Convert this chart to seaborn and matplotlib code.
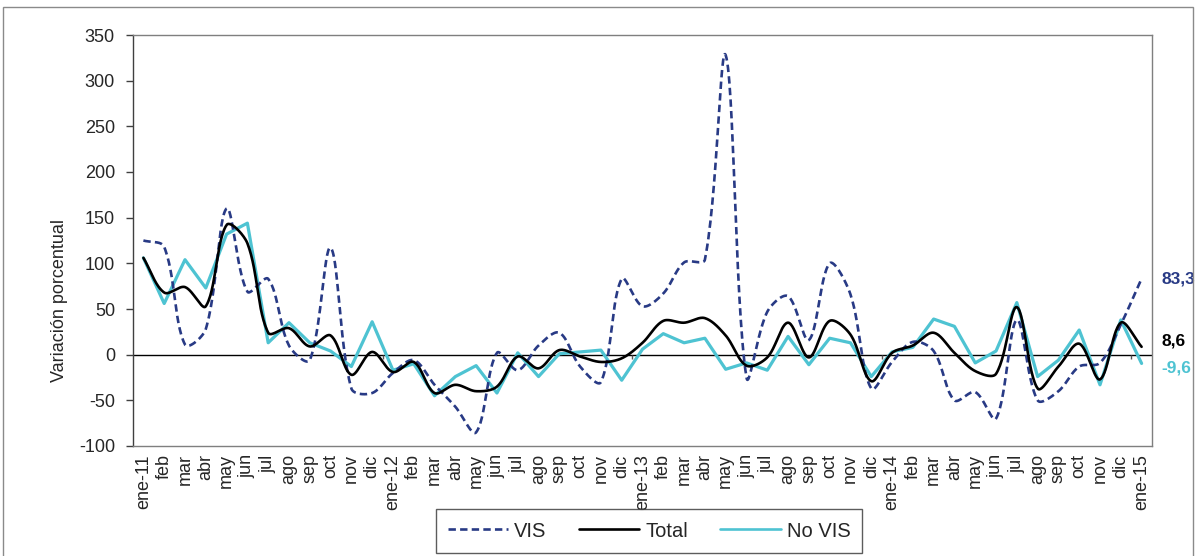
import numpy as np
import pandas as pd
import matplotlib
matplotlib.use("Agg")
import matplotlib.pyplot as plt
from matplotlib.lines import Line2D
from matplotlib.patches import Rectangle
import seaborn as sns

# Monthly categories (ene-11 .. ene-15)
months = ["ene-11", "feb", "mar", "abr", "may", "jun", "jul", "ago", "sep", "oct", "nov", "dic",
          "ene-12", "feb", "mar", "abr", "may", "jun", "jul", "ago", "sep", "oct", "nov", "dic",
          "ene-13", "feb", "mar", "abr", "may", "jun", "jul", "ago", "sep", "oct", "nov", "dic",
          "ene-14", "feb", "mar", "abr", "may", "jun", "jul", "ago", "sep", "oct", "nov", "dic",
          "ene-15"]

# Variación porcentual anual por segmento
vis = [125, 118, 11, 28, 160, 69, 83, 10, -6, 117, -37, -42,
       -20, -6, -33, -57, -85, 2, -17, 10, 24, -13, -30, 83,
       53, 67, 101, 104, 328, -25, 47, 64, 16, 100, 66, -37,
       -8, 14, 4, -50, -41, -70, 38, -50, -40, -13, -9, 33,
       83.3]
total = [106, 68, 74, 53, 142, 122, 24, 29, 9, 21, -22, 3,
         -19, -8, -42, -33, -40, -35, -2, -15, 5, -2, -8, -4,
         13, 37, 35, 40, 21, -12, -3, 35, -3, 37, 22, -29,
         2, 10, 24, 2, -18, -21, 52, -37, -13, 12, -27, 35,
         8.6]
no_vis = [106, 56, 104, 73, 132, 144, 13, 35, 13, 4, -13, 36,
          -17, -10, -45, -24, -12, -42, 2, -24, 1, 3, 5, -28,
          6, 23, 13, 18, -16, -9, -17, 20, -11, 18, 13, -24,
          3, 8, 39, 31, -9, 4, 57, -24, -6, 27, -33, 38,
          -9.6]

series_names = ["VIS", "Total", "No VIS"]
colors = {"VIS": "#283a85", "Total": "#000000", "No VIS": "#4ec3d2"}

# screen scale used for the curve smoothing (px per category, px per unit)
SX, SY = 20.8, 0.9133


def smooth_curve(values, steps=30, k=1.0 / 3.0):
    """Bezier smoothing through every point, tangents weighted by chord length."""
    y = np.asarray(values, dtype=float)
    n = len(y)
    pts = np.column_stack([np.arange(n) * SX, y * SY])
    ext = np.vstack([pts[0], pts, pts[-1]])
    t = np.linspace(0, 1, steps, endpoint=False)[:, None]
    out = []
    for i in range(n - 1):
        p0, p1, p2, p3 = ext[i], ext[i + 1], ext[i + 2], ext[i + 3]
        d01 = np.linalg.norm(p1 - p0)
        d12 = np.linalg.norm(p2 - p1)
        d23 = np.linalg.norm(p3 - p2)
        f1 = d12 / (d01 + d12) if d01 + d12 > 0 else 0.0
        f2 = d12 / (d12 + d23) if d12 + d23 > 0 else 0.0
        c1 = p1 + (p2 - p0) * f1 * k
        c2 = p2 - (p3 - p1) * f2 * k
        b = (1 - t) ** 3 * p1 + 3 * (1 - t) ** 2 * t * c1 + 3 * (1 - t) * t ** 2 * c2 + t ** 3 * p2
        out.append(b)
    out.append(pts[-1][None, :])
    arr = np.vstack(out)
    return arr[:, 0] / SX, arr[:, 1] / SY


sns.set_theme(style="white")
plt.rcParams["font.family"] = ["Liberation Sans", "DejaVu Sans"]
plt.rcParams["axes.unicode_minus"] = False

fig = plt.figure(figsize=(12.01, 5.56), dpi=100)
ax = fig.add_axes([133 / 1201, 1 - 446 / 556, (1152 - 133) / 1201, (446 - 35) / 556])

pos = np.arange(len(months))

vx, vy = smooth_curve(vis)
tx, ty = smooth_curve(total)
df_vis = pd.DataFrame({"pos": vx, "val": vy})
df_tot = pd.DataFrame({"pos": tx, "val": ty})
df_nov = pd.DataFrame({"pos": pos, "val": no_vis})

dash = (0, (2.8, 1.6))
sns.lineplot(data=df_vis, x="pos", y="val", ax=ax, color=colors["VIS"], linewidth=1.9,
             linestyle=dash, estimator=None, sort=False, zorder=3)
sns.lineplot(data=df_tot, x="pos", y="val", ax=ax, color=colors["Total"], linewidth=1.9,
             estimator=None, sort=False, zorder=4)
sns.lineplot(data=df_nov, x="pos", y="val", ax=ax, color=colors["No VIS"], linewidth=2.3,
             estimator=None, sort=False, zorder=2)

# zero line acting as the category axis
ax.axhline(0, color="black", linewidth=1.0, zorder=1)
ax.vlines(np.arange(11.5, len(months), 12), -4.5, 0, color="#555555", linewidth=1.0, zorder=1)

ax.set_xlim(-0.5, len(months) - 0.5)
ax.set_ylim(-100, 350)
ax.set_yticks(np.arange(-100, 351, 50))
ax.set_xticks(pos)
ax.set_xticklabels(months, rotation=90, fontsize=13)
ax.tick_params(axis="y", labelsize=13, length=5, width=1, color="#404040", direction="out", pad=8,
               left=True)
ax.tick_params(axis="x", length=0, pad=6)
ax.set_xlabel("")
ax.set_ylabel("Variación porcentual", fontsize=13)
ax.yaxis.set_label_coords(-0.064, 0.355)

for side in ["top", "right", "bottom"]:
    ax.spines[side].set_color("#7f7f7f")
    ax.spines[side].set_linewidth(1.0)
ax.spines["left"].set_color("#404040")
ax.spines["left"].set_linewidth(1.0)

# end-of-series value labels
end_labels = [(vis[-1], colors["VIS"], 0), (total[-1], colors["Total"], 4.5), (no_vis[-1], colors["No VIS"], -3.5)]
for val, col, dy in end_labels:
    ax.annotate(f"{val:.1f}".replace(".", ","), xy=(len(months) - 1, val), xytext=(14, dy),
                textcoords="offset points", ha="left", va="center", fontsize=12.5,
                fontweight="bold", color=col, annotation_clip=False)

handles = [
    Line2D([], [], color=colors["VIS"], linewidth=1.9, linestyle=dash),
    Line2D([], [], color=colors["Total"], linewidth=1.9),
    Line2D([], [], color=colors["No VIS"], linewidth=1.9),
]
leg = fig.legend(handles, series_names, loc="lower center", bbox_to_anchor=(649 / 1201, -0.012),
                 ncol=3, frameon=True, fancybox=False, edgecolor="#333333", fontsize=14.5,
                 handlelength=3.0, handletextpad=0.3, columnspacing=1.6, borderpad=0.6)
leg.get_frame().set_linewidth(1.0)

# outer chart frame
fig.patches.append(Rectangle((3 / 1201, -0.02), 1190 / 1201, 1 - 7 / 556 + 0.02,
                             transform=fig.transFigure, fill=False, edgecolor="#8a8a8a",
                             linewidth=1.0, zorder=0))

fig.savefig("out.png", dpi=100)
